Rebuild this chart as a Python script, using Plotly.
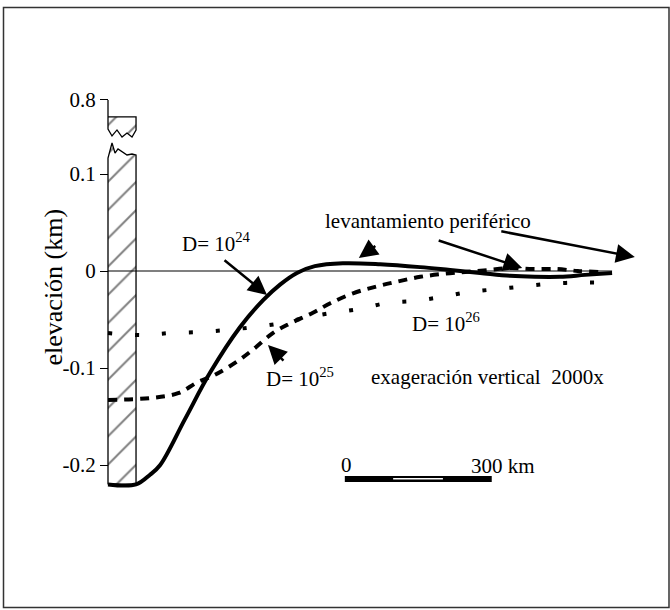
import plotly.graph_objects as go

# ---------------- data (km along profile, elevation km) ----------------
x_d24 = [0, 58, 87, 108, 159, 211, 273, 321, 356, 391, 428, 486, 563, 646, 708, 770, 832, 883, 935, 987, 1043]
y_d24 = [-0.220, -0.220, -0.210, -0.200, -0.153, -0.105, -0.058, -0.030, -0.014, -0.002, 0.005, 0.008, 0.007,
         0.004, 0.001, -0.002, -0.005, -0.006, -0.006, -0.004, -0.002]

x_d25 = [0, 87, 145, 184, 221, 265, 300, 341, 377, 424, 461, 507, 555, 598, 646, 693, 739, 786, 832, 879, 929, 972, 1018]
y_d25 = [-0.133, -0.131, -0.126, -0.115, -0.107, -0.094, -0.081, -0.064, -0.054, -0.043, -0.033, -0.023, -0.016,
         -0.011, -0.006, -0.003, -0.001, 0.001, 0.003, 0.002, 0.002, 0.000, -0.001]

x_d26 = [0, 72, 128, 186, 242, 298, 356, 410, 466, 521, 577, 631, 687, 743, 797, 857, 915, 970, 1026]
y_d26 = [-0.064, -0.066, -0.064, -0.063, -0.061, -0.058, -0.054, -0.048, -0.043, -0.039, -0.033, -0.031,
         -0.027, -0.022, -0.019, -0.016, -0.013, -0.012, -0.012]

tick_vals = [-0.2, -0.1, 0.0, 0.1, 0.1763]
tick_text = ["-0.2", "-0.1", "0", "0.1", "0.8"]

# ---------------- layout constants ----------------
FONT = "Liberation Serif, Times New Roman, Times, serif"
W, H = 670, 610
ML, MR, MT, MB = 60, 15, 60, 50
PX_PER_KM = 0.4833
PX_PER_KMZ = 970.0
X0_PX = 108
Y0_PX = 271
xr = [(ML - X0_PX) / PX_PER_KM, (W - MR - X0_PX) / PX_PER_KM]
yr = [-(H - MB - Y0_PX) / PX_PER_KMZ, (Y0_PX - MT) / PX_PER_KMZ]
pw = W - ML - MR
ph = H - MT - MB

BAR_W = 58          # km, width of load block
BAR_BOT = -0.220
# block pieces (broken axis)
top_x = [0, BAR_W, BAR_W, 49.7, 39.3, 29, 18.6, 8.3, 0, 0]
top_y = [0.1588, 0.1588, 0.1454, 0.1381, 0.1423, 0.1381, 0.1454, 0.1392, 0.1464, 0.1588]
low_x = [0, BAR_W, BAR_W, 49.7, 39.3, 29, 20.7, 14.5, 8.3, 0, 0]
low_y = [BAR_BOT, BAR_BOT, 0.1196, 0.1206, 0.1196, 0.1227, 0.1258, 0.1216, 0.1320, 0.1165, BAR_BOT]

fig = go.Figure()

hatch = dict(shape="/", size=20, solidity=0.1, fgcolor="black", bgcolor="white")
for xs, ys in [(low_x, low_y), (top_x, top_y)]:
    fig.add_trace(go.Scatter(x=xs, y=ys, mode="lines", fill="toself", fillcolor="white",
                             fillpattern=hatch, line=dict(color="black", width=1.3),
                             hoverinfo="skip", showlegend=False))

# zero line
fig.add_trace(go.Scatter(x=[0, x_d24[-1]], y=[0, 0], mode="lines",
                         line=dict(color="black", width=1.2), showlegend=False))

fig.add_trace(go.Scatter(x=x_d26, y=y_d26, mode="lines", line=dict(color="black", width=4, dash="4px,23px"),
                         line_shape="spline", showlegend=False))
fig.add_trace(go.Scatter(x=x_d25, y=y_d25, mode="lines", line=dict(color="black", width=4, dash="9px,7px"),
                         line_shape="spline", showlegend=False))
fig.add_trace(go.Scatter(x=x_d24, y=y_d24, mode="lines", line=dict(color="black", width=4),
                         line_shape="spline", showlegend=False))

shapes = []
# axis line segment up to 0.8 tick
shapes.append(dict(type="line", xref="x", yref="y", x0=0, x1=0, y0=tick_vals[-1], y1=0.1588,
                   line=dict(color="black", width=1.3)))
# scale bar
shapes.append(dict(type="rect", xref="x", yref="y", x0=490, x1=794, y0=-0.2175, y1=-0.2113,
                   fillcolor="black", line=dict(width=0)))
shapes.append(dict(type="rect", xref="x", yref="y", x0=590, x1=693, y0=-0.2150, y1=-0.2134,
                   fillcolor="white", line=dict(width=0)))
# frame
shapes.append(dict(type="rect", xref="paper", yref="paper",
                   x0=(3.5 - ML) / pw, x1=(669 - ML) / pw,
                   y0=(H - MB - 607.5) / ph, y1=(H - MB - 7.5) / ph,
                   line=dict(color="#333333", width=1.5)))

tf = dict(family=FONT, size=21, color="black")
ann = []
def txt(x, y, s, size=21):
    ann.append(dict(x=x, y=y, xref="x", yref="y", text=s, showarrow=False,
                    font=dict(family=FONT, size=size, color="black")))

txt(225, 0.029, "D= 10<sup>24</sup>")
txt(662, 0.0515, "levantamiento periférico")
txt(397, -0.110, "D= 10<sup>25</sup>")
txt(699, -0.0526, "D= 10<sup>26</sup>")
txt(786, -0.109, "exageración vertical \u00a02000x")
txt(494, -0.200, "0")
txt(817, -0.201, "300 km")

def arrow(x, y, ax, ay):
    ann.append(dict(x=x, y=y, xref="x", yref="y", ax=ax, ay=ay, text="", showarrow=True,
                    arrowhead=2, arrowsize=1.5, arrowwidth=2.5, arrowcolor="black", standoff=0))

arrow(329, -0.0247, -44, -36)
arrow(519, 0.0134, 18, -13)
arrow(857, 0.0031, -85, -28)
arrow(1090, 0.0144, -135, -26)
arrow(331, -0.0763, 17, 17)

ann.append(dict(x=(36 - ML) / pw, y=(H - MB - 287) / ph, xref="paper", yref="paper",
                text="elevación (km)", textangle=-90, showarrow=False,
                font=dict(family=FONT, size=26, color="black")))

fig.update_layout(
    width=W, height=H, margin=dict(l=ML, r=MR, t=MT, b=MB),
    paper_bgcolor="white", plot_bgcolor="white", showlegend=False,
    shapes=shapes, annotations=ann,
    xaxis=dict(range=xr, visible=False, showgrid=False, zeroline=False),
    yaxis=dict(range=yr, anchor="free", position=(X0_PX - ML) / pw, showgrid=False, zeroline=False,
               showline=False, ticks="outside", ticklen=8, tickwidth=1.3, tickcolor="black",
               tickvals=tick_vals, ticktext=tick_text, tickfont=tf, automargin=False),
)

fig.write_html("out.html", config={"displayModeBar": False},
               post_script="document.body.style.margin='0';document.body.style.overflow='hidden';")
